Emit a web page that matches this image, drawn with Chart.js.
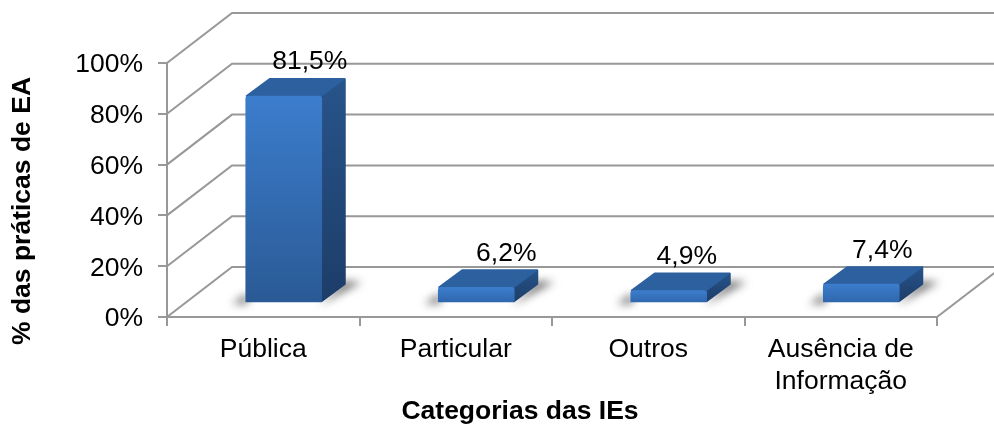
<!DOCTYPE html>
<html>
<head>
<meta charset="utf-8">
<title>Práticas de EA</title>
<script src="https://cdn.jsdelivr.net/npm/chart.js@4"></script>
<style>
html, body { margin: 0; padding: 0; background: #fff; }
#wrap { width: 994px; height: 425px; position: relative; overflow: hidden; }
#myChart { filter: blur(0.4px); }
</style>
</head>
<body>
<div id="wrap"><canvas id="myChart"></canvas></div>
<script>
'use strict';
let categories = ['Pública', 'Particular', 'Outros', ['Ausência de', 'Informação']];
let values = [81.5, 6.2, 4.9, 7.4];
let yTicks = [0, 20, 40, 60, 80, 100];
let xTitle = 'Categorias das IEs';
let yTitle = '% das práticas de EA';

const FONT = '"Liberation Sans", Arial, sans-serif';
// 3d look: wall depth and how far the bars sit inside the floor
const wallDx = 65, wallDy = -50;
const barDx = 20.5, barDy = -14;
const sideDx = 24, sideDy = -18;
const labelDx = [26, 30, 18, 21];
const labelDy = -16;
const gridColor = '#989898';

function frontFill(c) {
    let chart = c.chart;
    let y = chart.scales.y;
    if (!chart.chartArea || !y) return '#3671bd';
    let top = y.getPixelForValue(c.raw);
    let bottom = y.getPixelForValue(0);
    let g = chart.ctx.createLinearGradient(0, top, 0, bottom);
    g.addColorStop(0, '#3c7dcd');
    g.addColorStop(1, c.raw > 20 ? '#2a5a95' : '#2f66ab');
    return g;
}

function poly(ctx, pts, round) {
    ctx.beginPath();
    ctx.moveTo(pts[0][0], pts[0][1]);
    for (let i = 1; i < pts.length; i++) ctx.lineTo(pts[i][0], pts[i][1]);
    ctx.closePath();
    ctx.fill();
    if (round) {
        ctx.strokeStyle = ctx.fillStyle;
        ctx.lineWidth = 2;
        ctx.lineJoin = 'round';
        ctx.stroke();
    }
}

let walls = {
    id: 'walls',
    beforeDatasetsDraw(chart) {
        let ctx = chart.ctx;
        let y = chart.scales.y;
        let a = chart.chartArea;
        ctx.save();
        ctx.strokeStyle = gridColor;
        ctx.lineWidth = 2;
        yTicks.forEach(function (t) {
            let py = y.getPixelForValue(t);
            ctx.beginPath();
            ctx.moveTo(a.left, py);
            ctx.lineTo(a.left + wallDx, py + wallDy);
            ctx.lineTo(chart.width + 20, py + wallDy);
            ctx.stroke();
        });
        ctx.beginPath();
        ctx.moveTo(a.right, a.bottom);
        ctx.lineTo(a.right + wallDx, a.bottom + wallDy);
        ctx.stroke();
        ctx.restore();
    }
};

let bars3d = {
    id: 'bars3d',
    beforeDatasetDraw(chart, args) {
        let ctx = chart.ctx;
        let bars = chart.getDatasetMeta(args.index).data;
        ctx.save();
        bars.forEach(function (b) {
            let x0 = b.x - b.width / 2 + barDx;
            let x1 = b.x + b.width / 2 + barDx;
            let top = b.y + barDy;
            let bottom = b.base + barDy;

            // floor shadow
            ctx.save();
            ctx.filter = 'blur(4px)';
            ctx.fillStyle = 'rgba(70,70,70,0.75)';
            poly(ctx, [[x0 - 14, bottom + 2], [x0 + 2, bottom - 9], [x0 + 2, bottom + 2]]);
            poly(ctx, [[x1 - 2, bottom + 3], [x1 + sideDx + 16, bottom + sideDy - 2], [x1 + sideDx - 2, bottom + sideDy - 3]]);
            ctx.restore();

            // side face
            let sg = ctx.createLinearGradient(0, top + sideDy, 0, bottom);
            sg.addColorStop(0, '#27548a');
            sg.addColorStop(1, '#1d3d68');
            ctx.fillStyle = sg;
            poly(ctx, [[x1, top], [x1 + sideDx - 1, top + sideDy + 1], [x1 + sideDx - 1, bottom + sideDy], [x1, bottom - 1]], true);

            // top face
            ctx.fillStyle = '#2c609f';
            poly(ctx, [[x0 + 1, top], [x0 + sideDx, top + sideDy + 1], [x1 + sideDx - 2, top + sideDy + 1], [x1 - 1, top]], true);
        });
        ctx.translate(barDx, barDy);
    },
    afterDatasetDraw(chart, args) {
        let ctx = chart.ctx;
        ctx.restore();
        let bars = chart.getDatasetMeta(args.index).data;
        ctx.save();
        ctx.font = '26.5px ' + FONT;
        ctx.fillStyle = '#000';
        ctx.textAlign = 'center';
        ctx.textBaseline = 'middle';
        bars.forEach(function (b, i) {
            let txt = values[i].toFixed(1).replace('.', ',') + '%';
            ctx.fillText(txt, b.x + barDx + labelDx[i], b.y + barDy + sideDy + labelDy);
        });
        ctx.restore();
    }
};

let axisTitles = {
    id: 'axisTitles',
    afterDraw(chart) {
        let ctx = chart.ctx;
        ctx.save();
        ctx.font = 'bold 26.5px ' + FONT;
        ctx.fillStyle = '#000';
        ctx.textAlign = 'center';
        ctx.textBaseline = 'middle';
        ctx.fillText(xTitle, 520, 412);
        ctx.translate(23, 211);
        ctx.rotate(-Math.PI / 2);
        ctx.fillText(yTitle, 0, 0);
        ctx.restore();
    }
};

function chartRender() {
    let ctx = document.getElementById('myChart').getContext('2d');
    new Chart(ctx, {
        type: 'bar',
        data: {
            labels: categories,
            datasets: [{
                data: values,
                backgroundColor: frontFill,
                borderWidth: 0,
                borderRadius: { topLeft: 3, topRight: 3 },
                borderSkipped: 'bottom',
                barThickness: 76
            }]
        },
        options: {
            responsive: true,
            maintainAspectRatio: false,
            animation: false,
            layout: { padding: { top: 63, right: 57, left: 0, bottom: 0 } },
            plugins: { legend: { display: false }, tooltip: { enabled: false } },
            scales: {
                x: {
                    afterFit(scale) { scale.height = 108; },
                    grid: { drawOnChartArea: false, color: gridColor, lineWidth: 2, tickLength: 9 },
                    border: { color: gridColor, width: 2 },
                    ticks: { color: '#000', font: { family: FONT, size: 26.5 }, padding: 8, maxRotation: 0, autoSkip: false }
                },
                y: {
                    min: 0,
                    max: 100,
                    afterFit(scale) { scale.width = 167; },
                    afterBuildTicks(scale) { scale.ticks = yTicks.map(function (v) { return { value: v }; }); },
                    grid: { drawOnChartArea: false, color: gridColor, lineWidth: 2, tickLength: 9 },
                    border: { color: gridColor, width: 2 },
                    ticks: {
                        color: '#000',
                        font: { family: FONT, size: 26.5 },
                        padding: 15,
                        labelOffset: 2,
                        callback: function (v) { return v + '%'; }
                    }
                }
            }
        },
        plugins: [walls, bars3d, axisTitles]
    });
}

chartRender();
</script>
</body>
</html>
